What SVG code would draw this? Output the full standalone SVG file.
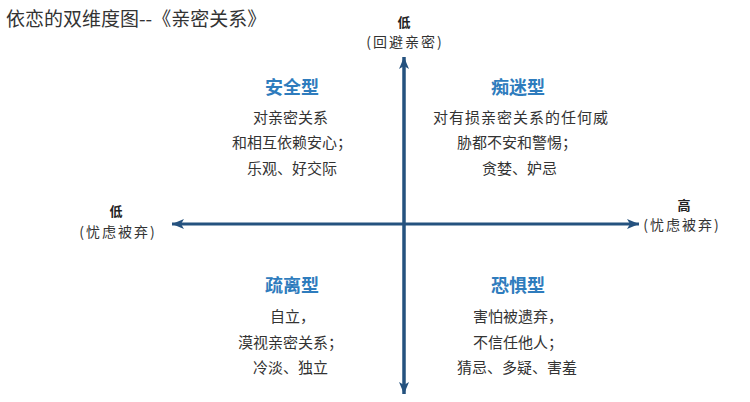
<svg xmlns="http://www.w3.org/2000/svg" width="750" height="402" viewBox="0 0 750 402">
<style>
text{font-family:"Noto Sans CJK SC","Noto Sans",sans-serif;}
.title{font-size:19px;fill:#333;}
.axl{font-size:14px;fill:#333;letter-spacing:2px;}
.axb{font-size:13px;fill:#222;font-weight:bold;}
.head{font-size:18px;font-weight:bold;fill:#2e7cbd;}
.body{font-size:15px;fill:#333;}
.axis{stroke:#25527f;stroke-width:3;fill:none;}
</style>
<defs>
<marker id="ah" markerUnits="userSpaceOnUse" markerWidth="14" markerHeight="12" refX="12" refY="5" orient="auto">
<path d="M0,0 L12,5 L0,10 L3,5 z" fill="#25527f"/>
</marker>
</defs>
<rect width="750" height="402" fill="#fff"/>
<text class="title" x="6" y="26">依恋的双维度图--《亲密关系》</text>
<g id="connectors">
<line class="axis" x1="404" y1="394" x2="404" y2="57" marker-end="url(#ah)"/>
<line class="axis" x1="404" y1="57" x2="404" y2="394" marker-end="url(#ah)"/>
<line class="axis" x1="405" y1="224" x2="172" y2="224" marker-end="url(#ah)"/>
<line class="axis" x1="405" y1="224" x2="639" y2="224" marker-end="url(#ah)"/>
</g>
<g id="label-top">
<text class="axb" x="404" y="27" text-anchor="middle">低</text>
<text class="axl" x="405" y="47" text-anchor="middle">(回避亲密)</text>
</g>
<g id="label-left">
<text class="axb" x="116" y="216" text-anchor="middle">低</text>
<text class="axl" x="118" y="237" text-anchor="middle">(忧虑被弃)</text>
</g>
<g id="label-right">
<text class="axb" x="684" y="210" text-anchor="middle">高</text>
<text class="axl" x="682" y="230" text-anchor="middle">(忧虑被弃)</text>
</g>
<g id="secure">
<text class="head" x="292" y="94" text-anchor="middle">安全型</text>
<text class="body" x="253" y="123">对亲密关系</text>
<text class="body" x="232" y="148">和相互依赖安心；</text>
<text class="body" x="247" y="174">乐观、好交际</text>
</g>
<g id="preoccupied">
<text class="head" x="518" y="94" text-anchor="middle">痴迷型</text>
<text class="body" x="433" y="123" textLength="175">对有损亲密关系的任何威</text>
<text class="body" x="457" y="148">胁都不安和警惕；</text>
<text class="body" x="482" y="174">贪婪、妒忌</text>
</g>
<g id="dismissing">
<text class="head" x="292" y="292" text-anchor="middle">疏离型</text>
<text class="body" x="270" y="322">自立，</text>
<text class="body" x="238" y="348">漠视亲密关系；</text>
<text class="body" x="253" y="373">冷淡、独立</text>
</g>
<g id="fearful">
<text class="head" x="518" y="292" text-anchor="middle">恐惧型</text>
<text class="body" x="473" y="322">害怕被遗弃，</text>
<text class="body" x="473" y="348">不信任他人；</text>
<text class="body" x="457" y="373">猜忌、多疑、害羞</text>
</g>
</svg>
